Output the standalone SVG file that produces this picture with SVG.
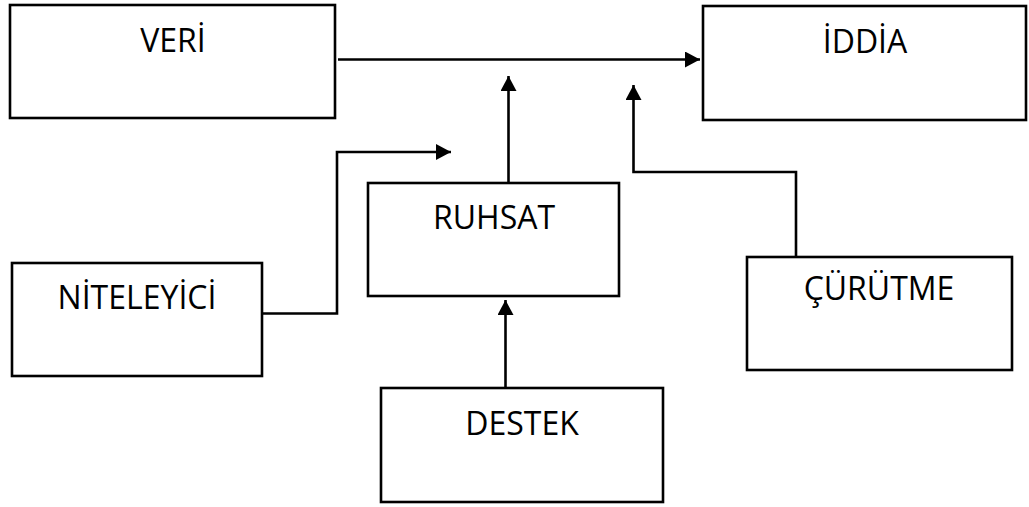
<svg xmlns="http://www.w3.org/2000/svg" width="1029" height="507" viewBox="0 0 1029 507">
<style>
.box{fill:#fff;stroke:#000;stroke-width:2.6}
.lbl{font-family:"Open Sans","Noto Sans","Liberation Sans",sans-serif;font-size:32px;fill:#000;text-anchor:middle}
.con{fill:none;stroke:#000;stroke-width:2.6}
</style>
<defs>
<marker id="ah" viewBox="0 0 15 16" refX="15" refY="8" markerWidth="15" markerHeight="16" markerUnits="userSpaceOnUse" orient="auto">
<path d="M0,0 L15,8 L0,16 Z" fill="#000"/>
</marker>
</defs>
<rect width="1029" height="507" fill="#fff"/>
<g id="veri"><rect class="box" x="10" y="5" width="325" height="113"/><text class="lbl" x="173" y="52">VERİ</text></g>
<g id="iddia"><rect class="box" x="703" y="6" width="323" height="114"/><text class="lbl" x="865" y="53">İDDİA</text></g>
<g id="ruhsat"><rect class="box" x="368" y="183" width="251" height="113"/><text class="lbl" x="494" y="229">RUHSAT</text></g>
<g id="niteleyici"><rect class="box" x="12" y="263" width="250" height="113"/><text class="lbl" x="137" y="309">NİTELEYİCİ</text></g>
<g id="curutme"><rect class="box" x="747" y="257" width="265" height="113"/><text class="lbl" x="879" y="300">ÇÜRÜTME</text></g>
<g id="destek"><rect class="box" x="381" y="388" width="282" height="114"/><text class="lbl" x="522" y="435">DESTEK</text></g>
<g id="connectors">
<path class="con" d="M338,59.5 H700" marker-end="url(#ah)"/>
<path class="con" d="M508.5,183 V76" marker-end="url(#ah)"/>
<path class="con" d="M796,257 V172 H633.5 V85" marker-end="url(#ah)"/>
<path class="con" d="M262,313.5 H337 V152 H451" marker-end="url(#ah)"/>
<path class="con" d="M505.5,388 V300" marker-end="url(#ah)"/>
</g>
</svg>
